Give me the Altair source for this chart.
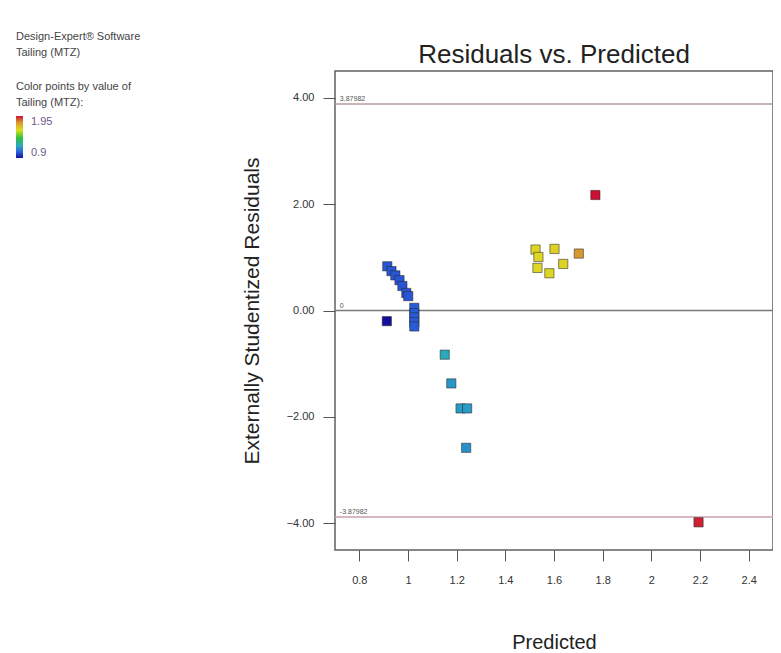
import altair as alt
import pandas as pd

# ---- data ----
predicted = [0.915, 0.932, 0.948, 0.965, 0.977, 0.993, 1.001,
             0.913,
             1.026, 1.026, 1.026, 1.026, 1.026,
             1.151, 1.178, 1.216, 1.243, 1.239,
             1.524, 1.536, 1.602, 1.532, 1.581, 1.638, 1.702,
             1.770, 2.194]
residuals = [0.83, 0.74, 0.66, 0.57, 0.46, 0.33, 0.27,
             -0.20,
             0.05, -0.05, -0.13, -0.22, -0.30,
             -0.83, -1.37, -1.84, -1.84, -2.58,
             1.145, 1.006, 1.157, 0.80, 0.70, 0.875, 1.07,
             2.17, -3.98]
tailing = [1.03, 1.03, 1.03, 1.03, 1.03, 1.03, 1.03,
           0.90,
           1.04, 1.04, 1.04, 1.04, 1.04,
           1.21, 1.16, 1.17, 1.17, 1.15,
           1.62, 1.62, 1.63, 1.62, 1.62, 1.63, 1.78,
           1.95, 1.93]

ref_values = [3.87982, 0.0, -3.87982]
ref_labels = ["3.87982", "0", "-3.87982"]
ref_colors = ["#b89a9e", "#7a7a7a", "#c9a0a8"]

x_ticks = [0.8, 1.0, 1.2, 1.4, 1.6, 1.8, 2.0, 2.2, 2.4]
y_ticks = [-4, -2, 0, 2, 4]
legend_values = [0.9, 1.95]

header_lines = ["Design-Expert® Software", "Tailing (MTZ)"]
legend_title = ["Color points by value of", "Tailing (MTZ):"]

color_domain = [0.9, 1.05, 1.2, 1.4, 1.6, 1.8, 1.95]
color_range = ["#10109a", "#2a60dc", "#2aa8c0", "#30c040", "#dede22", "#d89030", "#cc1034"]

pts = pd.DataFrame({"Predicted": predicted, "Residual": residuals, "Tailing": tailing})
refs = pd.DataFrame({"y": ref_values, "label": ref_labels, "c": ref_colors, "x": [0.72] * 3})
header = pd.DataFrame({"t": ["\n".join(header_lines)]})

FONT = "Liberation Sans"

xscale = alt.Scale(domain=[0.7, 2.5], nice=False, zero=False)
yscale = alt.Scale(domain=[-4.5, 4.5], nice=False, zero=False)

xaxis = alt.Axis(values=x_ticks, format="~g", tickSize=11, labelPadding=13,
                 labelFontSize=11, labelColor="#333", tickColor="#555",
                 title="Predicted", titleFontSize=20, titleFontWeight="normal",
                 titleColor="#222", titlePadding=47, grid=False, domain=False,
                 labelFont=FONT, titleFont=FONT)
yaxis = alt.Axis(values=y_ticks, format=".2f", tickSize=12, labelPadding=9,
                 labelFontSize=11, labelColor="#333", tickColor="#555",
                 title="Externally Studentized Residuals", titleFontSize=21,
                 titleFontWeight="normal", titleColor="#222", titlePadding=24,
                 grid=False, domain=False, labelFont=FONT, titleFont=FONT)

rules = alt.Chart(refs).mark_rule(strokeWidth=1.5).encode(
    y=alt.Y("y:Q", scale=yscale, axis=yaxis),
    color=alt.Color("c:N", scale=None),
)

texts = alt.Chart(refs).mark_text(align="left", baseline="bottom", dy=-2, fontSize=7,
                                  color="#555", font=FONT).encode(
    x=alt.X("x:Q", scale=xscale, axis=xaxis),
    y=alt.Y("y:Q", scale=yscale, axis=yaxis),
    text="label:N",
)

header_text = alt.Chart(header).mark_text(
    align="left", baseline="top", fontSize=11, font=FONT, color="#444",
    lineBreak="\n", lineHeight=16,
).encode(x=alt.value(-319), y=alt.value(-40), text="t:N")

points = alt.Chart(pts).mark_point(shape="square", filled=True, size=85, opacity=1,
                                   stroke="#2a2a2a", strokeWidth=1, strokeOpacity=0.55).encode(
    x=alt.X("Predicted:Q", scale=xscale, axis=xaxis),
    y=alt.Y("Residual:Q", scale=yscale, axis=yaxis),
    fill=alt.Fill("Tailing:Q",
                  scale=alt.Scale(domain=color_domain, range=color_range, interpolate="rgb"),
                  legend=alt.Legend(
                      orient="none", legendX=-319, legendY=10,
                      title=legend_title,
                      titleFontSize=11, titleFontWeight="normal", titleColor="#444",
                      titleFont=FONT, titleLineHeight=16, titlePadding=8,
                      values=legend_values,
                      labelExpr="datum.value > 1.5 ? '1.95' : '0.9'",
                      gradientLength=42, gradientThickness=7, gradientStrokeWidth=0,
                      labelFontSize=11, labelFont=FONT, labelOffset=8,
                      labelColor="#6a5a8a",
                  )),
)

chart = alt.layer(rules, texts, header_text, points).properties(
    width=438, height=479,
    padding={"left": 327, "top": 63, "right": 0, "bottom": 103},
    autosize=alt.AutoSizeParams(type="none"),
    title=alt.TitleParams("Residuals vs. Predicted", fontSize=26, font=FONT,
                          fontWeight="normal", color="#222", anchor="middle",
                          offset=8, dy=45),
).configure_view(stroke="#606060", strokeWidth=1.5)

chart.save("out.html", embed_options={"renderer": "svg", "actions": False})
